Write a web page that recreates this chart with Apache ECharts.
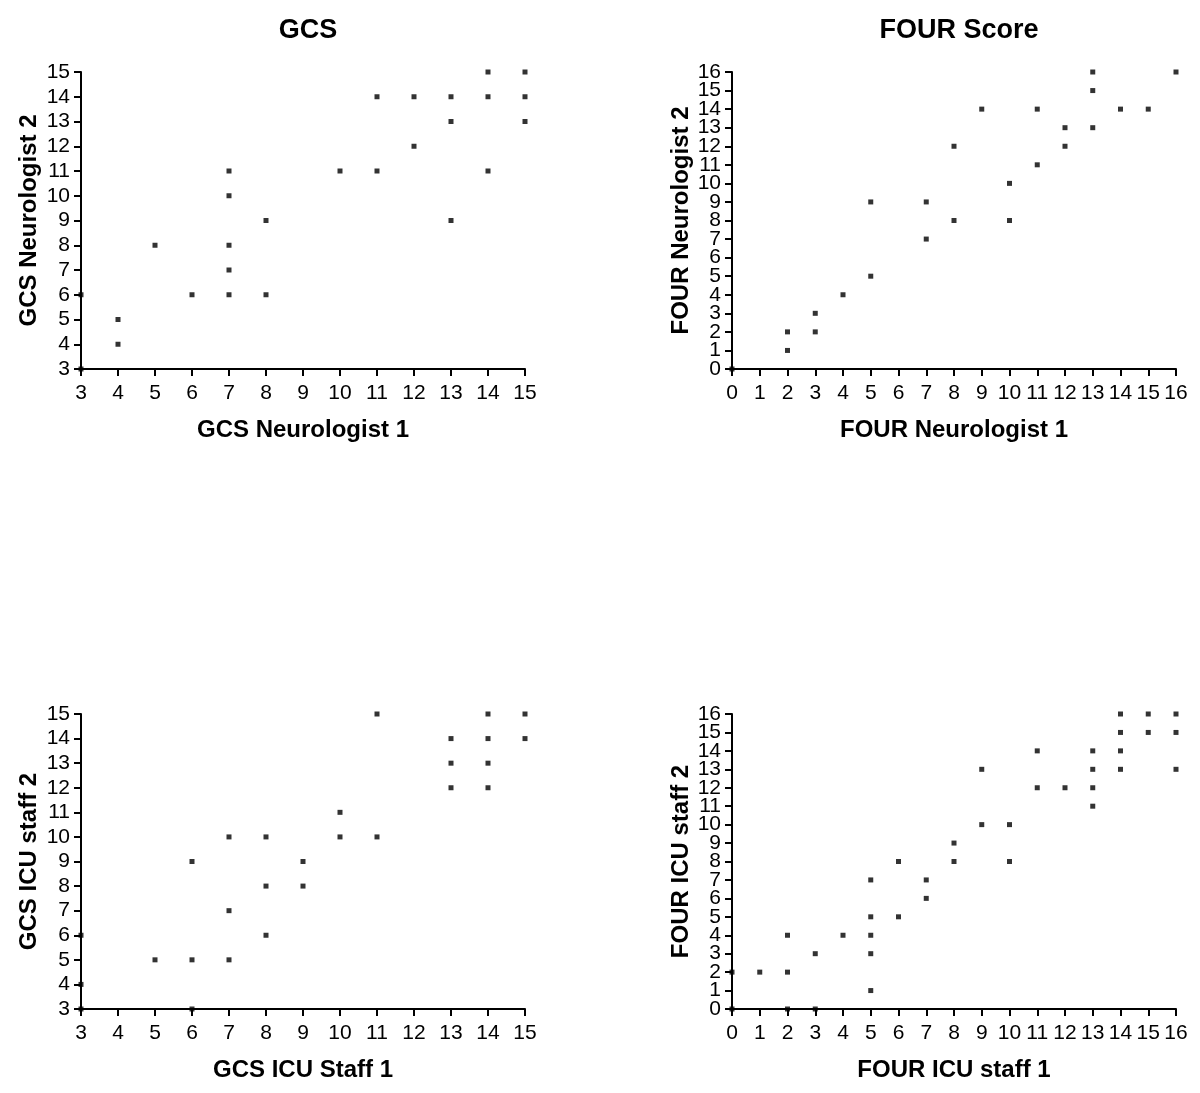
<!DOCTYPE html>
<html><head><meta charset="utf-8">
<script src="https://cdn.jsdelivr.net/npm/echarts@6/dist/echarts.min.js"></script>
<style>html,body{margin:0;padding:0;background:#fff}#c{width:1200px;height:1093px}</style>
</head><body><div id="c"></div>
<script>
// Panel titles and axis names
const panelTitles = ['GCS', 'FOUR Score'];
const xNames = ['GCS Neurologist 1', 'FOUR Neurologist 1', 'GCS ICU Staff 1', 'FOUR ICU staff 1'];
const yNames = ['GCS Neurologist 2', 'FOUR Neurologist 2', 'GCS ICU staff 2', 'FOUR ICU staff 2'];

// GCS – neurologists
const gcsNeuroX = [14,15, 11,12,13,14,15, 13,15, 12, 7,10,11,14, 7, 8,13, 5,7, 7, 3,6,7,8, 4, 4, 3];
const gcsNeuroY = [15,15, 14,14,14,14,14, 13,13, 12, 11,11,11,11, 10, 9,9, 8,8, 7, 6,6,6,6, 5, 4, 3];

// FOUR – neurologists
const fourNeuroX = [13,16, 13, 9,11,14,15, 12,13, 8,12, 11, 10, 5,7, 8,10, 7, 5, 4, 3, 2,3, 2, 0];
const fourNeuroY = [16,16, 15, 14,14,14,14, 13,13, 12,12, 11, 10, 9,9, 8,8, 7, 5, 4, 3, 2,2, 1, 0];

// GCS – ICU staff
const gcsIcuX = [11,14,15, 13,14,15, 13,14, 13,14, 10, 7,8,10,11, 6,9, 8,9, 7, 3,8, 5,6,7, 3, 3,6];
const gcsIcuY = [15,15,15, 14,14,14, 13,13, 12,12, 11, 10,10,10,10, 9,9, 8,8, 7, 6,6, 5,5,5, 4, 3,3];

// FOUR – ICU staff
const fourIcuX = [14,15,16, 14,15,16, 11,13,14, 9,13,14,16, 11,12,13, 13, 9,10, 8, 6,8,10, 5,7, 7, 5,6, 2,4,5, 3,5, 0,1,2, 5, 0,2,3];
const fourIcuY = [16,16,16, 15,15,15, 14,14,14, 13,13,13,13, 12,12,12, 11, 10,10, 9, 8,8,8, 7,7, 6, 5,5, 4,4,4, 3,3, 2,2,2, 1, 0,0,0];

// Axis ranges
const gcsMin = 3, gcsMax = 15, fourMin = 0, fourMax = 16;

const panels = [
  {x: gcsNeuroX, y: gcsNeuroY, min: gcsMin, max: gcsMax},
  {x: fourNeuroX, y: fourNeuroY, min: fourMin, max: fourMax},
  {x: gcsIcuX, y: gcsIcuY, min: gcsMin, max: gcsMax},
  {x: fourIcuX, y: fourIcuY, min: fourMin, max: fourMax}
];

const FONT = 'Liberation Sans, Arial, sans-serif';
const gridPos = [
  {left: 81, top: 72, width: 444, height: 297},
  {left: 732, top: 72, width: 444, height: 297},
  {left: 81, top: 714, width: 444, height: 295},
  {left: 732, top: 714, width: 444, height: 295}
];
const yNameGaps = [40, 37, 40, 37];

function labelStyle(isX) {
  return {color: '#000', fontFamily: FONT, fontSize: 21, margin: isX ? 14 : 11,
          showMinLabel: true, showMaxLabel: true, hideOverlap: false};
}

function xAxisFor(i, p) {
  return {
    gridIndex: i, type: 'value', min: p.min, max: p.max, interval: 1,
    name: xNames[i], nameLocation: 'middle', nameGap: 49,
    nameTextStyle: {fontFamily: FONT, fontWeight: 'bold', fontSize: 24, color: '#000'},
    axisLine: {show: true, onZero: false, lineStyle: {color: '#000', width: 2}},
    axisTick: {show: true, length: 7, lineStyle: {color: '#000', width: 2}},
    axisLabel: labelStyle(true),
    splitLine: {show: false}
  };
}

// Main y axis: line, ticks, name and labels of one parity; a twin axis carries the other parity
// so that adjacent labels never get culled by overlap handling.
function yAxisFor(i, p, parity, main) {
  const lab = labelStyle(false);
  lab.formatter = v => (((v - p.min) % 2) === parity ? String(v) : '');
  const ax = {
    gridIndex: i, type: 'value', min: p.min, max: p.max, interval: 1, position: 'left', offset: 0,
    axisLine: {show: main, onZero: false, lineStyle: {color: '#000', width: 2}},
    axisTick: {show: main, length: 7, lineStyle: {color: '#000', width: 2}},
    axisLabel: lab,
    splitLine: {show: false}
  };
  if (main) {
    ax.name = yNames[i];
    ax.nameLocation = 'middle';
    ax.nameGap = yNameGaps[i];
    ax.nameTextStyle = {fontFamily: FONT, fontWeight: 'bold', fontSize: 24, color: '#000'};
  }
  return ax;
}

const option = {
  backgroundColor: '#fff',
  animation: false,
  title: panelTitles.map((t, i) => ({
    text: t, left: gridPos[i].left + gridPos[i].width / 2, top: 12, textAlign: 'center',
    textStyle: {fontFamily: FONT, fontWeight: 'bold', fontSize: 27, color: '#000'}
  })),
  grid: gridPos,
  xAxis: panels.map((p, i) => xAxisFor(i, p)),
  yAxis: panels.map((p, i) => yAxisFor(i, p, 0, true))
    .concat(panels.map((p, i) => yAxisFor(i, p, 1, false))),
  series: panels.map((p, i) => ({
    type: 'scatter', xAxisIndex: i, yAxisIndex: i,
    symbol: 'rect', symbolSize: 5, clip: false,
    itemStyle: {color: '#000'},
    data: p.x.map((v, k) => [v, p.y[k]])
  }))
};

const chart = echarts.init(document.getElementById('c'), null, {renderer: 'canvas'});
chart.setOption(option);
</script>
</body></html>
